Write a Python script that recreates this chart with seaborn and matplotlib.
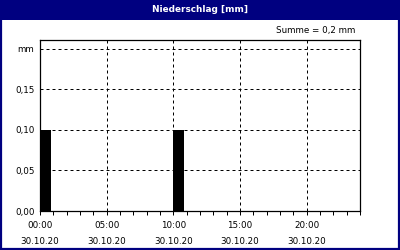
import matplotlib
matplotlib.use("Agg")
import matplotlib.pyplot as plt
from matplotlib.patches import Rectangle
from matplotlib.ticker import MultipleLocator, FixedLocator
import numpy as np
import pandas as pd
import seaborn as sns

# ---- data ----
hours = list(range(24))
precip = [0.1, 0, 0, 0, 0, 0, 0, 0, 0, 0, 0.1, 0, 0, 0, 0, 0, 0, 0, 0, 0, 0, 0, 0, 0]
x_tick_hours = [0, 5, 10, 15, 20]
x_tick_labels = ["00:00\n30.10.20", "05:00\n30.10.20", "10:00\n30.10.20",
                 "15:00\n30.10.20", "20:00\n30.10.20"]
y_ticks = [0.0, 0.05, 0.10, 0.15, 0.20]
y_tick_labels = ["0,00", "0,05", "0,10", "0,15", "mm"]
title = "Niederschlag [mm]"
summe_text = "Summe = 0,2 mm"

NAVY = "#000080"
FS = 6.3

sns.set_style("white")
plt.rcParams['font.family'] = ['DejaVu Sans']

fig = plt.figure(figsize=(4, 2.5), dpi=100)
fig.patch.set_facecolor("white")
ax = fig.add_axes([40/400, 1-211/250, 320/400, 171/250])

bar_width = 0.8
df = pd.DataFrame({"hour": [h + bar_width/2 for h in hours], "mm": precip})
sns.barplot(data=df, x="hour", y="mm", native_scale=True, color="black",
            width=bar_width, errorbar=None, linewidth=0, saturation=1, ax=ax,
            zorder=3)

ax.set_xlim(0, 24)
ax.set_ylim(0, 0.2107)
ax.xaxis.set_major_locator(FixedLocator(x_tick_hours))
ax.set_xticklabels(x_tick_labels)
ax.xaxis.set_minor_locator(MultipleLocator(1))
ax.set_yticks(y_ticks)
ax.set_yticklabels(y_tick_labels)
ax.set_xlabel("")
ax.set_ylabel("")

ax.set_axisbelow(True)
ax.grid(True, which="major", color="black", linestyle=(0, (3, 3)), linewidth=0.72)
for s in ax.spines.values():
    s.set_visible(True)
    s.set_color("black")
    s.set_linewidth(0.9)
    s.set_zorder(4)

ax.tick_params(axis="x", which="both", direction="out", length=3, width=0.72,
               color="black", bottom=True, labelsize=FS, pad=4, labelcolor="black")
ax.tick_params(axis="y", which="both", length=0, labelsize=FS, pad=4, labelcolor="black")
for lbl in ax.get_xticklabels():
    lbl.set_linespacing(2.0)

# title bar and border
fig.add_artist(Rectangle((0, 1-20/250), 1, 20/250, transform=fig.transFigure,
                         facecolor=NAVY, edgecolor="none", zorder=0))
fig.add_artist(Rectangle((0.003, 0.005), 0.994, 0.99, transform=fig.transFigure,
                         facecolor="none", edgecolor=NAVY, linewidth=1.6, zorder=5))
fig.text(0.5, 1-10/250, title, color="white", fontsize=6.4, fontweight="bold",
         ha="center", va="center")
fig.text(355/400, 1-31/250, summe_text, color="black", fontsize=FS,
         ha="right", va="center")

fig.savefig("out.png", dpi=100, facecolor="white")
